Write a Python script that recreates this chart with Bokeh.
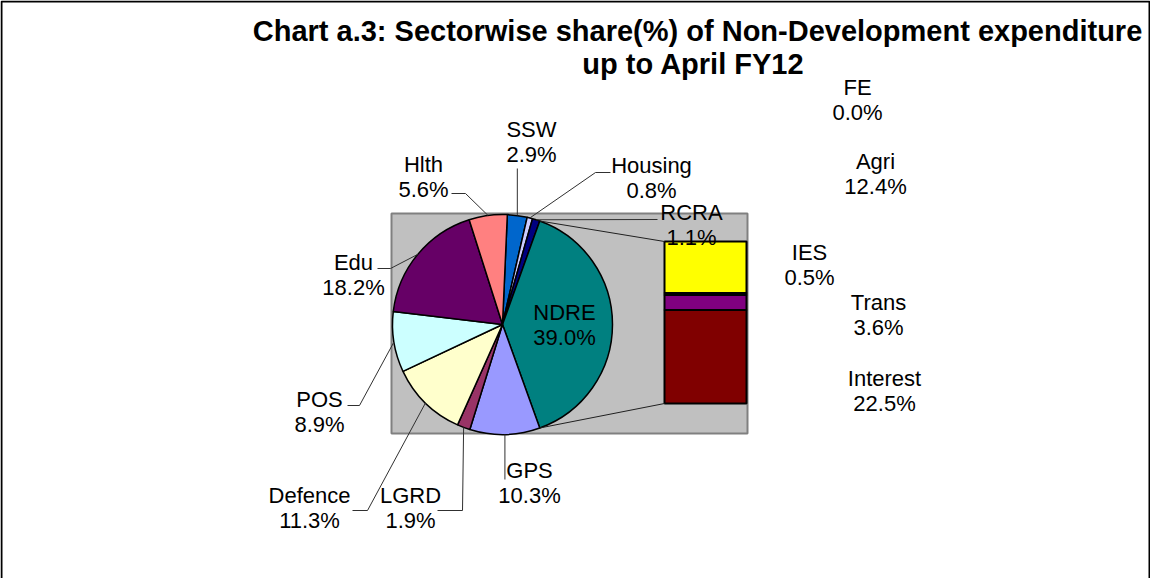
import math
from bokeh.plotting import figure
from bokeh.models import Range1d
from bokeh.core.properties import value
from bokeh.embed import file_html
from bokeh.resources import INLINE

# ---------------- data ----------------
pie_names = ["SSW", "Housing", "RCRA", "NDRE", "GPS", "LGRD", "Defence", "POS", "Edu", "Hlth"]
pie_values = [2.9, 0.8, 1.1, 39.0, 10.3, 1.9, 11.3, 8.9, 18.2, 5.6]
bar_names = ["FE", "Agri", "IES", "Trans", "Interest"]
bar_values = [0.0, 12.4, 0.5, 3.6, 22.5]
title_lines = ["Chart a.3: Sectorwise share(%) of Non-Development expenditure", "up to April FY12"]

# ---------------- styles ----------------
pie_colors = ["#0066CC", "#CCCCFF", "#000080", "#008080", "#9999FF", "#993366",
              "#FFFFCC", "#CCFFFF", "#660066", "#FF8080"]
bar_colors = ["#FFFFFF", "#FFFF00", "#000000", "#800080", "#800000"]
FONT = value("Liberation Sans")

# ---------------- layout (page pixel coords) ----------------
W, H = 1150, 578
def Y(page_y):
    return 586 - page_y

CX, CY, R = 510, 332, 110
PLOT_AREA = (399, 755, 221, 441)   # left, right, top, bottom
BAR_X = (672, 754)
BAR_TOP = 249
BAR_H = 162

pie_label_pos = {
    "SSW": (539, 137), "Housing": (659, 173), "RCRA": (699, 220), "NDRE": (572, 320),
    "GPS": (537, 478), "LGRD": (418, 503), "Defence": (317, 503), "POS": (327, 407),
    "Edu": (361, 270), "Hlth": (431, 172),
}
leader_path = {
    "SSW": [(None, 176)],
    "Housing": [(603, 180), (618, 180)],
    "RCRA": [(665, 227)],
    "Hlth": [(473, 201), (459, 201)],
    "Edu": [(398, 276), (385, 276)],
    "POS": [(367, 413), (355, 413)],
    "Defence": [(375, 518), (360, 518)],
    "LGRD": [(470, 518), (445, 518)],
    "GPS": [(None, 487)],
}
bar_label_pos = {"FE": (865, 95), "Agri": (883, 169), "IES": (817, 260),
                 "Trans": (886, 310), "Interest": (892, 386)}
LINE_GAP = 25

p = figure(width=W, height=H, output_backend="svg", toolbar_location=None,
           x_range=Range1d(8, 8 + W), y_range=Range1d(0, H),
           min_border=0, outline_line_color=None)
p.axis.visible = False
p.grid.visible = False
p.background_fill_color = "white"
p.border_fill_color = "white"

# chart border (left, top, right)
p.line([9, 9, 1157, 1157], [Y(600), Y(9), Y(9), Y(600)], line_color="black", line_width=2)

# plot area
l, r, t, b = PLOT_AREA
p.quad(left=l, right=r, top=Y(t), bottom=Y(b), fill_color="#C0C0C0",
       line_color="#808080", line_width=2)

# pie angles: clockwise from 12 o'clock, "other" slice (NDRE) centred at 3 o'clock
total = sum(pie_values)
deg = [v / total * 360 for v in pie_values]
idx = pie_names.index("NDRE")
ndre_start = 90 - deg[idx] / 2
start0 = ndre_start - sum(deg[:idx])
starts, ends = [], []
a = start0
for d in deg:
    starts.append(a)
    ends.append(a + d)
    a += d

def circ(theta, rad=R):
    return (CX + rad * math.sin(math.radians(theta)), Y(CY - rad * math.cos(math.radians(theta))))

p.wedge(x=[CX] * len(deg), y=[Y(CY)] * len(deg), radius=R,
        start_angle=[math.radians(90 - e) for e in ends],
        end_angle=[math.radians(90 - s) for s in starts],
        direction="anticlock", fill_color=pie_colors, line_color="black", line_width=1.5)

# bar of pie
bsum = sum(bar_values)
scale = BAR_H / bsum
tops, bots = [], []
y0 = BAR_TOP
for v in bar_values:
    tops.append(Y(y0))
    y0 += v * scale
    bots.append(Y(y0))
nz = [i for i, v in enumerate(bar_values) if v > 0]
p.quad(left=[BAR_X[0]] * len(nz), right=[BAR_X[1]] * len(nz),
       top=[tops[i] for i in nz], bottom=[bots[i] for i in nz],
       fill_color=[bar_colors[i] for i in nz], line_color="black", line_width=2)

# connector lines
pa = circ(starts[idx])
pb = circ(ends[idx])
p.line([pa[0], BAR_X[0]], [pa[1], Y(BAR_TOP)], line_color="#202020", line_width=1)
p.line([pb[0], BAR_X[0]], [pb[1], Y(BAR_TOP + BAR_H)], line_color="#202020", line_width=1)

# leader lines
for name, path in leader_path.items():
    i = pie_names.index(name)
    mid = (starts[i] + ends[i]) / 2
    sx, sy = circ(mid)
    xs, ys = [sx], [sy]
    for (px, py) in path:
        xs.append(sx if px is None else px)
        ys.append(Y(py))
    p.line(xs, ys, line_color="#303030", line_width=1)

# labels
names_x, names_y, names_t = [], [], []
for i, name in enumerate(pie_names):
    x, y = pie_label_pos[name]
    names_x += [x, x]
    names_y += [Y(y), Y(y + LINE_GAP)]
    names_t += [name, f"{pie_values[i]:.1f}%"]
for i, name in enumerate(bar_names):
    x, y = bar_label_pos[name]
    names_x += [x, x]
    names_y += [Y(y), Y(y + LINE_GAP)]
    names_t += [name, f"{bar_values[i]:.1f}%"]
p.text(x=names_x, y=names_y, text=names_t, text_align="center", text_baseline="middle",
       text_font=FONT, text_font_size="22px", text_color="black")

# title
p.text(x=[705, 701], y=[Y(38), Y(71)], text=title_lines, text_align="center",
       text_baseline="middle", text_font=FONT, text_font_size="29px",
       text_font_style="bold", text_color="black")

open("out.html", "w").write(file_html(p, INLINE))
